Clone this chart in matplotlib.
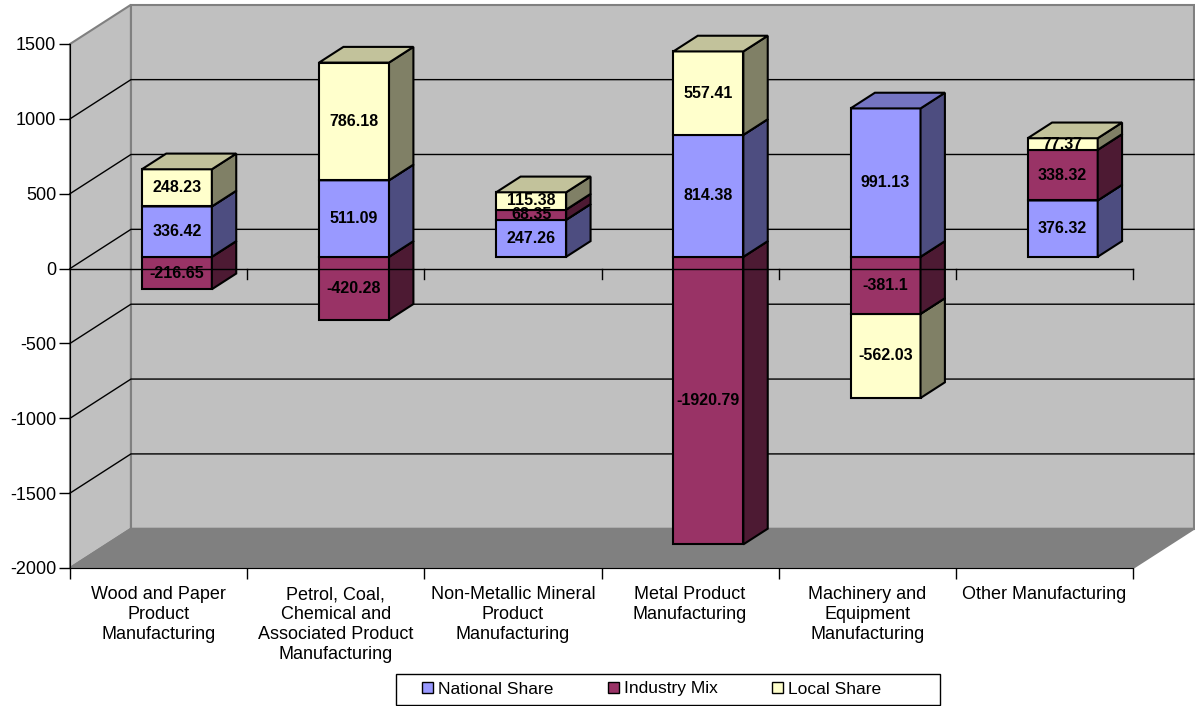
import matplotlib.pyplot as plt
from matplotlib.patches import Polygon, Patch, Rectangle
from matplotlib.colors import to_rgb

plt.rcParams['font.family'] = ['Liberation Sans', 'DejaVu Sans']

categories = ["Wood and Paper\nProduct\nManufacturing",
              "Petrol, Coal,\nChemical and\nAssociated Product\nManufacturing",
              "Non-Metallic Mineral\nProduct\nManufacturing",
              "Metal Product\nManufacturing",
              "Machinery and\nEquipment\nManufacturing",
              "Other Manufacturing"]
national_share = [336.42, 511.09, 247.26, 814.38, 991.13, 376.32]
industry_mix = [-216.65, -420.28, 68.35, -1920.79, -381.1, 338.32]
local_share = [248.23, 786.18, 115.38, 557.41, -562.03, 77.37]
series_names = ["National Share", "Industry Mix", "Local Share"]
series_colors = ["#9999FF", "#993366", "#FFFFCC"]
y_ticks = [1500, 1000, 500, 0, -500, -1000, -1500, -2000]

YMIN, YMAX = -2000, 1500
NCAT = len(categories)
# depth of the box, in data units
DX, DY = 0.344, 262.0
BAR_W = 0.395
BAR_D0, BAR_D1 = 0.3, 0.7


def proj(x, y, d):
    return (x + d * DX, y + d * DY)


def shade(c, f):
    r, g, b = to_rgb(c)
    return (r * f, g * f, b * f)


fig = plt.figure(figsize=(11.95, 7.06), dpi=100)
ax = fig.add_axes([70 / 1195, (706 - 568) / 706, 1063 / 1195, 524 / 706])
ax.set_xlim(0, NCAT)
ax.set_ylim(YMIN, YMAX)
ax.patch.set_visible(False)
for s in ['top', 'right']:
    ax.spines[s].set_visible(False)
ax.spines['left'].set_zorder(6)
ax.spines['bottom'].set_zorder(6)

# walls and floor
left_wall = [proj(0, YMIN, 0), proj(0, YMAX, 0), proj(0, YMAX, 1), proj(0, YMIN, 1)]
back_wall = [proj(0, YMIN, 1), proj(0, YMAX, 1), proj(NCAT, YMAX, 1), proj(NCAT, YMIN, 1)]
floor = [proj(0, YMIN, 0), proj(NCAT, YMIN, 0), proj(NCAT, YMIN, 1), proj(0, YMIN, 1)]
for pts, fc in [(left_wall, '#C0C0C0'), (back_wall, '#C0C0C0'), (floor, '#808080')]:
    ax.add_patch(Polygon(pts, closed=True, facecolor=fc, edgecolor='#808080',
                         lw=1.5, clip_on=False, zorder=0.5))

for t in y_ticks[1:-1]:
    xs, ys = zip(proj(0, t, 0), proj(0, t, 1), proj(NCAT, t, 1))
    ax.plot(xs, ys, color='black', lw=1, clip_on=False, zorder=1)

# stacked boxes
for i in range(NCAT):
    vals = [national_share[i], industry_mix[i], local_share[i]]
    pos, neg = 0.0, 0.0
    segs = []
    for k, v in enumerate(vals):
        if v >= 0:
            segs.append((pos, pos + v, k, v))
            pos += v
        else:
            segs.append((neg + v, neg, k, v))
            neg += v
    segs.sort(key=lambda s: s[0])
    x0 = i + 0.5 - BAR_W / 2
    x1 = i + 0.5 + BAR_W / 2
    for lo, hi, k, v in segs:
        c = series_colors[k]
        front = [proj(x0, lo, BAR_D0), proj(x1, lo, BAR_D0), proj(x1, hi, BAR_D0), proj(x0, hi, BAR_D0)]
        side = [proj(x1, lo, BAR_D0), proj(x1, lo, BAR_D1), proj(x1, hi, BAR_D1), proj(x1, hi, BAR_D0)]
        top = [proj(x0, hi, BAR_D0), proj(x1, hi, BAR_D0), proj(x1, hi, BAR_D1), proj(x0, hi, BAR_D1)]
        kw = dict(closed=True, edgecolor='black', lw=1.5, joinstyle='miter', clip_on=False, zorder=3)
        face = Polygon(front, facecolor=c, **kw)
        ax.add_patch(face)
        ax.add_patch(Polygon(side, facecolor=shade(c, 0.5), **kw))
        ax.add_patch(Polygon(top, facecolor=shade(c, 0.76), **kw))
        cx, cy = proj((x0 + x1) / 2, (lo + hi) / 2, BAR_D0)
        lbl = ax.text(cx, cy, f"{v:g}", ha='center', va='center', fontsize=11.5,
                      fontweight='bold', color='black', zorder=4, clip_on=True)
        lbl.set_clip_path(face)

# category axis at zero, drawn in front of the boxes
ax.plot([0, NCAT], [0, 0], color='black', lw=1, zorder=5, clip_on=False)
for b in range(1, NCAT + 1):
    ax.plot([b, b], [0, -67], color='black', lw=1, zorder=5, clip_on=False)

ax.set_yticks(y_ticks)
ax.set_yticklabels([str(t) for t in y_ticks])
ax.tick_params(axis='y', length=8, width=1, labelsize=13, pad=2)
ax.set_xticks(range(NCAT + 1))
ax.set_xticklabels([])
ax.set_xticks([i + 0.5 for i in range(NCAT)], minor=True)
ax.set_xticklabels(categories, minor=True, fontsize=13, linespacing=1.22)
ax.tick_params(axis='x', which='major', length=8, width=1)
ax.tick_params(axis='x', which='minor', length=0, pad=13)

# legend box
fig.add_artist(Rectangle((396 / 1195, 1 / 706), 544 / 1195, 31 / 706,
                         transform=fig.transFigure, fill=False,
                         edgecolor='black', lw=1))
handles = [Patch(facecolor=c, edgecolor='black', lw=1) for c in series_colors]
fig.legend(handles, series_names, loc='center left', ncol=3,
           bbox_to_anchor=(422 / 1195, 1 - 689 / 706),
           frameon=False, borderpad=0, borderaxespad=0,
           fontsize=12.5, handlelength=0.65, handleheight=0.65, handletextpad=0.3,
           columnspacing=3.1)

fig.savefig('out.png', dpi=100)
